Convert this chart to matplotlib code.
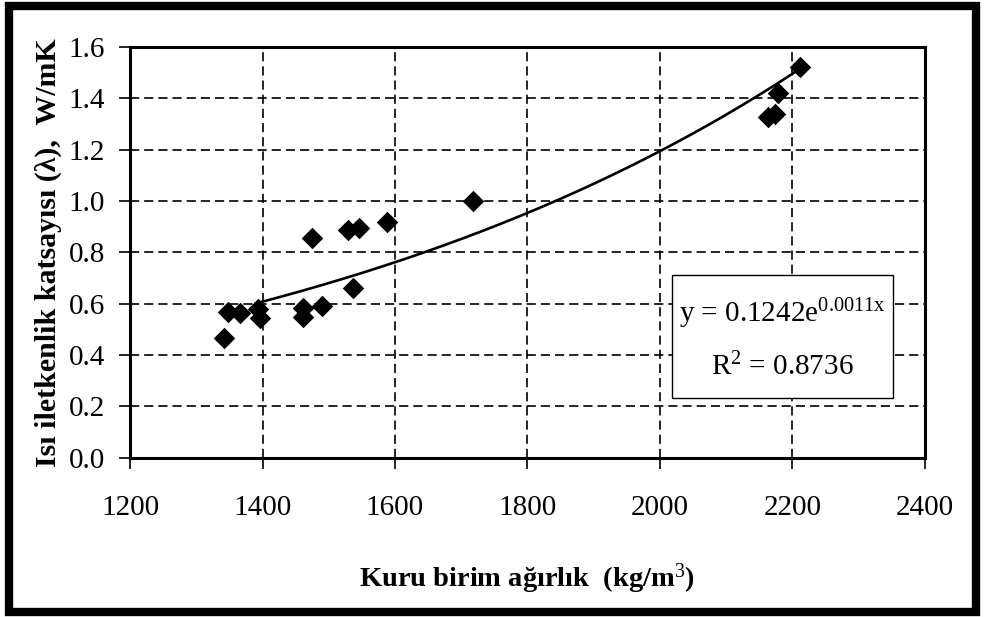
import numpy as np
import matplotlib
matplotlib.use("Agg")
import matplotlib.pyplot as plt
from matplotlib.patches import Rectangle

plt.rcParams['font.family'] = ['Liberation Serif', 'DejaVu Serif']
plt.rcParams['mathtext.fontset'] = 'custom'
plt.rcParams['mathtext.rm'] = 'Liberation Serif'
plt.rcParams['mathtext.it'] = 'Liberation Serif'
plt.rcParams['mathtext.bf'] = 'Liberation Serif:bold'

# kuru birim agirlik (kg/m3) ve isi iletkenlik katsayisi (W/mK)
agirlik = [1342, 1348, 1366, 1393, 1396, 1461, 1461, 1490, 1537,
           1475, 1529, 1546, 1588, 1718, 2163, 2174, 2178, 2211]
lamda = [0.467, 0.568, 0.564, 0.580, 0.545, 0.584, 0.549, 0.590, 0.660,
         0.856, 0.887, 0.895, 0.918, 1.000, 1.327, 1.340, 1.420, 1.520]
egilim_baslangic = 1390

esitlik = "y = 0.1242e$^{0.0011x}$"
r2 = "R$^{2}$ = 0.8736"

xticks = [1200, 1400, 1600, 1800, 2000, 2200, 2400]
yticks = [0.0, 0.2, 0.4, 0.6, 0.8, 1.0, 1.2, 1.4, 1.6]

fig = plt.figure(figsize=(9.85, 6.17), dpi=100)
ax = fig.add_axes([0.132, 0.258, 0.807, 0.666])

# ustel egilim cizgisi (ln y uzerinden dogrusal fit)
b, lna = np.polyfit(agirlik, np.log(lamda), 1)
xx = np.linspace(egilim_baslangic, max(agirlik), 200)
ax.plot(xx, np.exp(lna) * np.exp(b * xx), color='black', lw=1.9, zorder=3)

ax.scatter(agirlik, lamda, marker='D', s=120, color='black', zorder=4, linewidths=0)

ax.set_xlim(1200, 2400)
ax.set_ylim(0, 1.6)
ax.set_xticks(xticks)
ax.set_yticks(yticks)
ax.set_yticklabels(["%.1f" % v for v in yticks])
ax.tick_params(labelsize=21, direction='out', length=8, width=1.2)
ax.tick_params(axis='x', pad=19)
ax.tick_params(axis='y', pad=10)
ax.grid(True, color='black', linestyle=(0, (5.5, 3)), lw=1.2, zorder=1)
ax.set_axisbelow(True)
for s in ax.spines.values():
    s.set_linewidth(2.2)

ax.set_xlabel("Kuru birim ağırlık  (kg/m$^{3}$)", fontsize=20.5, fontweight='bold',
              va='baseline')
ax.xaxis.set_label_coords(0.5, -0.314)
ax.set_ylabel("Isı iletkenlik katsayısı (λ),  W/mK", fontsize=21.5, fontweight='bold')
ax.yaxis.set_label_coords(-0.085, 0.5)

# denklem kutusu
ax.add_patch(Rectangle((0.682, 0.146), 0.278, 0.3, transform=ax.transAxes,
                       facecolor='white', edgecolor='black', lw=1.0, zorder=5))
ax.text(0.821, 0.35, esitlik, transform=ax.transAxes, ha='center', va='center',
        fontsize=21, zorder=6)
ax.text(0.821, 0.222, r2, transform=ax.transAxes, ha='center', va='center',
        fontsize=21, zorder=6)

# dis cerceve
fig.add_artist(Rectangle((0.009, 0.008), 0.982, 0.982, transform=fig.transFigure,
                         fill=False, edgecolor='black', lw=6))

plt.savefig("out.png", dpi=100)
